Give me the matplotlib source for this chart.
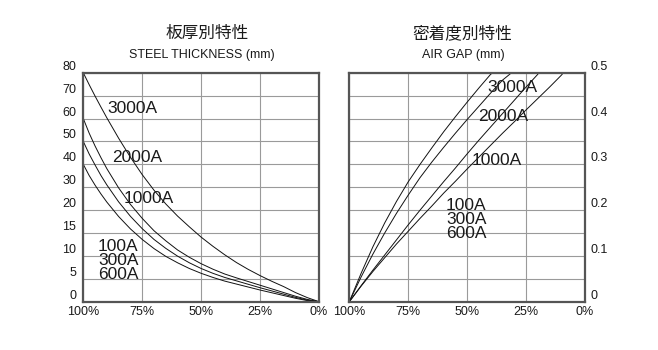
import numpy as np
import matplotlib
matplotlib.use("Agg")
import matplotlib.pyplot as plt

plt.rcParams['font.family'] = ['Liberation Sans', 'Noto Sans CJK JP', 'DejaVu Sans']

# ---- left chart: steel thickness (mm) vs % ----
thick_ticks = [0, 5, 10, 15, 20, 30, 40, 50, 60, 70, 80]
thick_x = [100, 97.5, 95, 92.5, 90, 85, 80, 75, 70, 65, 60, 55, 50, 45, 40, 35, 30, 25, 20, 15, 10, 5, 0]
thick_3000 = [80, 74.8, 69.8, 65.0, 60.3, 51.4, 43.1, 35.5, 28.7, 22.7, 18.7, 16.35, 14.1, 12.1, 10.25, 8.55, 7.05, 5.7, 4.45, 3.3, 2.0, 0.9, 0]
thick_2000 = [60, 53.6, 48.0, 42.9, 38.1, 29.7, 22.5, 18.2, 15.5, 13.3, 11.3, 9.7, 8.3, 7.1, 6.05, 5.2, 4.4, 3.6, 2.8, 2.0, 1.2, 0.5, 0]
thick_1000 = [50, 44.5, 39.7, 35.1, 31.0, 23.6, 18.65, 15.95, 13.6, 11.65, 9.95, 8.5, 7.25, 6.2, 5.3, 4.55, 3.8, 3.05, 2.35, 1.65, 0.95, 0.35, 0]
thick_600 = [40, 35.1, 30.9, 27.05, 23.5, 18.6, 15.9, 13.6, 11.6, 9.9, 8.5, 7.25, 6.2, 5.3, 4.5, 3.85, 3.2, 2.55, 1.95, 1.35, 0.75, 0.25, 0]

# ---- right chart: air gap (mm) vs % ----
gap_x_3000 = [100, 95, 90, 85, 80, 75, 70, 65, 60, 55, 50, 45, 40, 39]
gap_3000 = [0, 0.062, 0.120, 0.172, 0.219, 0.262, 0.300, 0.336, 0.371, 0.404, 0.436, 0.467, 0.497, 0.5]
gap_x_2000 = [100, 95, 90, 85, 80, 75, 70, 65, 60, 55, 50, 45, 40, 35, 31.2]
gap_2000 = [0, 0.054, 0.104, 0.150, 0.193, 0.233, 0.271, 0.305, 0.337, 0.368, 0.398, 0.427, 0.456, 0.484, 0.5]
gap_x_1000 = [100, 95, 90, 85, 80, 75, 70, 65, 60, 55, 50, 45, 40, 35, 30, 25, 20, 19.8]
gap_1000 = [0, 0.035, 0.069, 0.102, 0.135, 0.168, 0.200, 0.231, 0.262, 0.292, 0.323, 0.353, 0.382, 0.411, 0.440, 0.469, 0.497, 0.5]
gap_x_600 = [100, 95, 90, 85, 80, 75, 70, 65, 60, 55, 50, 45, 40, 35, 30, 25, 20, 15, 10, 9.2]
gap_600 = [0, 0.034, 0.066, 0.096, 0.126, 0.154, 0.182, 0.209, 0.237, 0.263, 0.290, 0.316, 0.342, 0.368, 0.393, 0.419, 0.444, 0.469, 0.495, 0.5]

gap_ticks = [0, 0.05, 0.1, 0.15, 0.2, 0.25, 0.3, 0.35, 0.4, 0.45, 0.5]
gap_labels = ['0', '', '0.1', '', '0.2', '', '0.3', '', '0.4', '', '0.5']

pct_ticks = [100, 75, 50, 25, 0]
pct_labels = ['100%', '75%', '50%', '25%', '0%']

labels = ['3000A', '2000A', '1000A', '100A\n300A\n600A']

grid_c = '#9a9a9a'
spine_c = '#555555'
txt_c = '#1a1a1a'

fig = plt.figure(figsize=(6.58, 3.5), dpi=100)
ax1 = fig.add_axes([0.1266, 0.138, 0.3582, 0.654])
ax2 = fig.add_axes([0.5309, 0.138, 0.3582, 0.654])

# piecewise-linear y scale so the uneven ticks sit on even gridlines
idx = np.arange(len(thick_ticks))
fwd = lambda v: np.interp(v, thick_ticks, idx)
inv = lambda i: np.interp(i, idx, thick_ticks)
ax1.set_yscale('function', functions=(fwd, inv))

for ys in (thick_3000, thick_2000, thick_1000, thick_600):
    ax1.plot(thick_x, ys, color='#111111', lw=0.7)

for xs, ys in ((gap_x_3000, gap_3000), (gap_x_2000, gap_2000),
               (gap_x_1000, gap_1000), (gap_x_600, gap_600)):
    ax2.plot(xs, ys, color='#111111', lw=0.7)

ax1.set_ylim(0, 80)
ax2.set_ylim(0, 0.5)
ax1.set_yticks(thick_ticks)
ax1.set_yticklabels([str(t) for t in thick_ticks])
ax2.set_yticks(gap_ticks)
ax2.set_yticklabels(gap_labels)
ax2.yaxis.tick_right()

for ax in (ax1, ax2):
    ax.set_xlim(100, 0)
    ax.set_xticks(pct_ticks)
    ax.set_xticklabels(pct_labels)
    ax.grid(True, color=grid_c, lw=0.8)
    ax.set_axisbelow(True)
    for s in ax.spines.values():
        s.set_color(spine_c)
        s.set_linewidth(1.6)
    ax.tick_params(length=0, labelsize=9, colors=txt_c)
    ax.tick_params(axis='x', pad=3)
    for lab in ax.get_yticklabels():
        lab.set_verticalalignment('bottom')

ax1.tick_params(axis='y', pad=5)
ax2.tick_params(axis='y', pad=4)

# curve labels
left_pos = [(0.10, 0.846), (0.122, 0.632), (0.173, 0.453), (0.062, 0.178)]
right_pos = [(0.584, 0.9375), (0.546, 0.807), (0.52, 0.619), (0.41, 0.361)]
for lab, (x, y) in zip(labels, left_pos):
    ax1.text(x, y, lab, transform=ax1.transAxes, fontsize=12.5, ha='left',
             va='center', linespacing=0.92, color=txt_c)
for lab, (x, y) in zip(labels, right_pos):
    ax2.text(x, y, lab, transform=ax2.transAxes, fontsize=12.5, ha='left',
             va='center', linespacing=0.92, color=txt_c)

# titles
fig.text(207.5 / 658, 1 - 33 / 350, '板厚別特性', fontsize=12, ha='center', va='center', color=txt_c)
fig.text(201.8 / 658, 1 - 55 / 350, 'STEEL THICKNESS (mm)', fontsize=9, ha='center', va='center', color=txt_c)
fig.text(462.5 / 658, 1 - 33 / 350, '密着度別特性', fontsize=12, ha='center', va='center', color=txt_c)
fig.text(463 / 658, 1 - 55 / 350, 'AIR GAP (mm)', fontsize=9, ha='center', va='center', color=txt_c)

fig.savefig('out.png', dpi=100)
